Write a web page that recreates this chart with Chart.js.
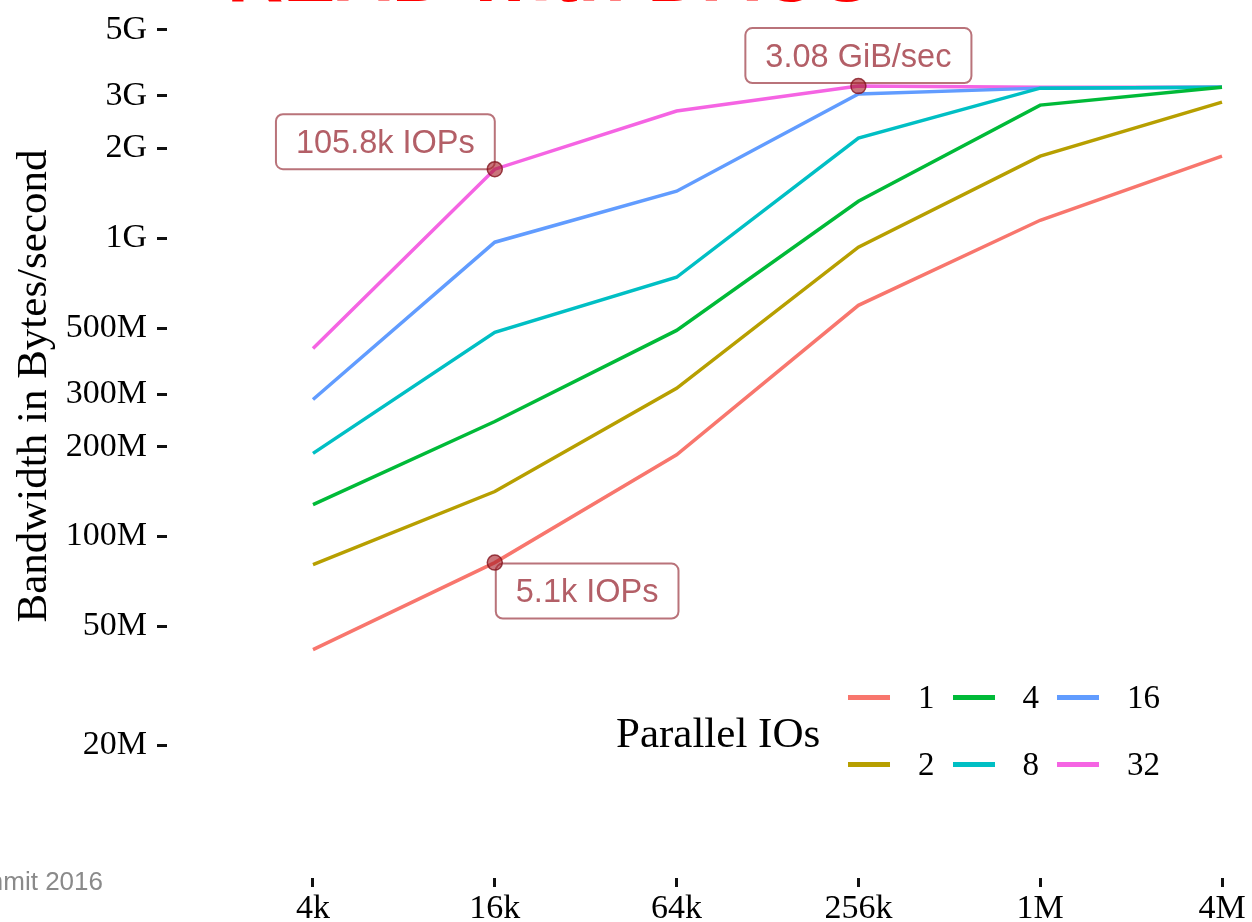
<!DOCTYPE html>
<html lang="en">
<head>
<meta charset="UTF-8">
<title>Bandwidth vs IO size</title>
<script src="https://cdn.jsdelivr.net/npm/chart.js"></script>
<style>
  body { margin: 0; background: #fff; }
  #wrap { position: relative; width: 1252px; height: 922px; overflow: hidden; }
  #chart { position: absolute; left: 0; top: 0; }
  .txt { position: absolute; white-space: nowrap; }
  #topTitle { left: 227px; top: -65px; font: bold 78px 'Liberation Sans', Arial, sans-serif; color: #f00; line-height: 78px; }
  #footer { right: 1149px; top: 866px; font: 26px 'Liberation Sans', Arial, sans-serif; color: #8a8a8a; }
  #yTitle { left: -268px; top: 361px; width: 600px; height: 50px; line-height: 50px; text-align: center;
            transform: rotate(-90deg); font: 43px 'Liberation Serif', 'Times New Roman', serif; color: #000; }
  #legTitle { left: 616px; top: 708px; font: 43px 'Liberation Serif', serif; color: #000; line-height: 50px; }
  .key { position: absolute; width: 42px; height: 5px; }
  .keyLabel { position: absolute; font: 33px 'Liberation Serif', serif; color: #000; line-height: 40px; }
</style>
</head>
<body>
<div id="wrap">
  <canvas id="chart" width="1252" height="922"></canvas>
  <div class="txt" id="topTitle">READ with DAOS</div>
  <div class="txt" id="footer">Summit 2016</div>
  <div class="txt" id="yTitle">Bandwidth in Bytes/second</div>
  <div class="txt" id="legTitle">Parallel IOs</div>
  <div id="legend"></div>
</div>
<script>
// IO sizes on the x axis
const ioSizes = ['4k', '16k', '64k', '256k', '1M', '4M'];

// bandwidth in MB/s, one list per number of parallel IOs
const par1  = [41.8, 81.8, 188, 596, 1149, 1885];
const par2  = [80.6, 141.6, 314, 933, 1885, 2860];
const par4  = [128, 243, 491, 1330, 2795, 3210];
const par8  = [190, 484, 740, 2166, 3186, 3210];
const par16 = [288, 970, 1438, 3043, 3186, 3210];
const par32 = [427, 1704, 2669, 3236, 3210, 3210];

const seriesNames = ['1', '2', '4', '8', '16', '32'];
const seriesValues = [par1, par2, par4, par8, par16, par32];
const seriesColors = ['#F8766D', '#B79F00', '#00BA38', '#00BFC4', '#619CFF', '#F564E3'];

// y axis ticks
const yTickValues = [20, 50, 100, 200, 300, 500, 1000, 2000, 3000, 5000];
const yTickLabels = ['20M', '50M', '100M', '200M', '300M', '500M', '1G', '2G', '3G', '5G'];

// callouts: series index, x index, text
const calloutSeries = [0, 5, 5];
const calloutPoint = [1, 1, 3];
const calloutText = ['5.1k IOPs', '105.8k IOPs', '3.08 GiB/sec'];
const calloutPlace = ['lowerRight', 'upperLeft', 'above'];

const serif = "'Liberation Serif', 'Times New Roman', serif";

// legend (column-wise, 2 rows)
const legend = document.getElementById('legend');
seriesNames.forEach((name, i) => {
  const col = Math.floor(i / 2), row = i % 2;
  const left = 848 + col * 104.5;
  const cy = 697 + row * 67;
  const key = document.createElement('div');
  key.className = 'key';
  key.style.left = left + 'px';
  key.style.top = (cy - 2.5) + 'px';
  key.style.background = seriesColors[i];
  legend.appendChild(key);
  const lab = document.createElement('div');
  lab.className = 'keyLabel';
  lab.style.left = (left + 70) + 'px';
  lab.style.top = (cy - 20) + 'px';
  lab.textContent = name;
  legend.appendChild(lab);
});

const callouts = {
  id: 'callouts',
  afterDatasetsDraw(chart) {
    const ctx = chart.ctx;
    ctx.save();
    ctx.font = "32.5px 'Liberation Sans', Arial, sans-serif";
    calloutText.forEach((text, k) => {
      const pt = chart.getDatasetMeta(calloutSeries[k]).data[calloutPoint[k]];
      const w = ctx.measureText(text).width + 40, h = 55;
      let bx, by;
      if (calloutPlace[k] === 'lowerRight') { bx = pt.x + 1; by = pt.y + 1; }
      else if (calloutPlace[k] === 'upperLeft') { bx = pt.x - w; by = pt.y - h; }
      else { bx = pt.x - w / 2; by = pt.y - h - 3; }
      ctx.beginPath();
      ctx.roundRect(bx, by, w, h, 7);
      ctx.fillStyle = 'rgba(255,255,255,0.85)';
      ctx.fill();
      ctx.lineWidth = 2;
      ctx.strokeStyle = '#b9737a';
      ctx.stroke();
      ctx.fillStyle = '#b35f67';
      ctx.textAlign = 'center';
      ctx.textBaseline = 'middle';
      ctx.fillText(text, bx + w / 2, by + h / 2 + 2);
      ctx.beginPath();
      ctx.arc(pt.x, pt.y, 7.5, 0, Math.PI * 2);
      ctx.fillStyle = 'rgba(165,25,35,0.6)';
      ctx.fill();
      ctx.lineWidth = 1.5;
      ctx.strokeStyle = 'rgba(130,20,30,0.8)';
      ctx.stroke();
    });
    ctx.restore();
  }
};

new Chart(document.getElementById('chart'), {
  type: 'line',
  data: {
    datasets: seriesValues.map((vals, i) => ({
      label: seriesNames[i],
      data: vals.map((v, j) => ({ x: j, y: v })),
      borderColor: seriesColors[i],
      borderWidth: 3.5,
      pointRadius: 0,
      tension: 0
    }))
  },
  options: {
    responsive: false,
    animation: false,
    layout: { padding: { top: 11, left: 0, right: 0, bottom: 0 } },
    plugins: { legend: { display: false }, tooltip: { enabled: false } },
    scales: {
      x: {
        type: 'linear',
        min: -0.803,
        max: 5.165,
        afterBuildTicks: s => { s.ticks = ioSizes.map((_, j) => ({ value: j })); },
        afterFit: s => { s.height = 44; s.paddingLeft = 0; s.paddingRight = 0; },
        ticks: {
          autoSkip: false, maxRotation: 0, padding: 2,
          color: '#000', font: { family: serif, size: 34 },
          callback: v => ioSizes[v]
        },
        grid: { drawOnChartArea: false, drawTicks: true, tickLength: 9, tickWidth: 3, tickColor: '#111' },
        border: { display: false }
      },
      y: {
        type: 'logarithmic',
        min: 7.17,
        max: 5778,
        bounds: 'data',
        afterBuildTicks: s => { s.ticks = yTickValues.map(v => ({ value: v })); },
        afterFit: s => { s.width = 167; s.paddingTop = 0; s.paddingBottom = 0; },
        ticks: {
          autoSkip: false, padding: 10,
          color: '#000', font: { family: serif, size: 34 },
          callback: v => yTickLabels[yTickValues.indexOf(v)]
        },
        grid: { drawOnChartArea: false, drawTicks: true, tickLength: 10, tickWidth: 3, tickColor: '#111' },
        border: { display: false }
      }
    }
  },
  plugins: [callouts]
});
</script>
</body>
</html>
